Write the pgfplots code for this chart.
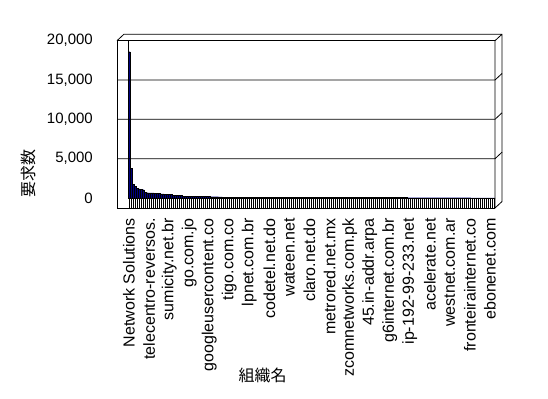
\documentclass[border=0pt]{standalone}
\usepackage{pgfplots}
\usepackage{pgfplotstable}
\pgfplotsset{compat=1.18}
\usepackage{fontspec}
\setmainfont{Liberation Sans}
\newfontfamily\cjk{Noto Sans CJK JP}
\definecolor{barnavy}{RGB}{0,0,128}
\pgfplotstableread{
v
18600
3800
1700
1450
1200
1150
1120
1050
700
680
660
650
640
630
620
600
520
510
500
490
480
470
360
350
340
330
320
200
198
196
194
192
190
188
186
184
182
180
178
176
174
172
170
168
165
130
128
126
124
122
120
118
116
114
112
110
108
106
104
102
100
98
97
96
95
94
93
92
91
90
89
88
87
86
85
84
83
82
81
80
79
78
77
76
75
74
73
72
71
70
69
68
68
67
67
66
66
65
65
64
64
63
63
62
62
61
61
60
60
59
59
58
58
57
57
56
56
55
55
54
54
53
53
52
52
51
51
50
50
49
49
48
48
47
47
46
46
45
45
44
44
43
43
42
42
41
41
40
40
40
39
39
39
38
38
38
37
37
37
36
36
36
35
35
35
34
34
34
33
33
33
32
32
32
31
31
31
30
30
30
30
29
29
}\datatable
\begin{document}
\begin{tikzpicture}[x=1bp,y=1bp]
\useasboundingbox (0,0) rectangle (548,398);
\begin{axis}[
  at={(128bp,200bp)}, anchor=south west,
  scale only axis, width=367bp, height=157.3bp,
  xmin=-0.5, xmax=182.5, ymin=0, ymax=20000,
  axis line style={draw=none},
  ybar, bar width=1,
  xtick={0,10,...,180},
  xticklabels={{Network Solutions},{telecentro-reversos.},{sumicity.net.br},{go.com.jo},{googleusercontent.co},{tigo.com.co},{lpnet.com.br},{codetel.net.do},{wateen.net},{claro.net.do},{metrored.net.mx},{zcomnetworks.com.pk},{45.in-addr.arpa},{g6internet.com.br},{ip-192-99-233.net},{acelerate.net},{westnet.com.ar},{fronteirainternet.co},{ebonenet.com}},
  minor xtick={0,1,...,182},
  xtick pos=bottom,
  tick align=outside,
  major tick length=10bp, minor tick length=10bp,
  xtick style={black, line width=0.5bp},
  ytick={0,5000,10000,15000,20000},
  ytick style={draw=none},
  scaled y ticks=false,
  /pgf/number format/.cd, 1000 sep={,}, assume math mode=true, /pgfplots/.cd,
  yticklabel style={font=\fontsize{15bp}{15bp}\selectfont, anchor=east, inner sep=0pt, xshift=-25bp},
  xticklabel style={font=\fontsize{16bp}{16bp}\selectfont, rotate=90, anchor=east, inner sep=0pt},
  xticklabel shift=10bp,
]
\addplot[fill=barnavy, draw=black, line width=0.3bp] table[x expr=\coordindex, y=v] {\datatable};
\end{axis}
% 3D frame (image y-down converted: Y = 398 - y)
\begin{scope}[line width=0.8bp, black]
\draw (117,357.3) -- (117,190) -- (495,190);
\draw (117,357.3) -- (495,357.3);
\draw (117,357.3) -- (124,363.8) -- (502,363.8) -- (502,196.5) -- (495,190) -- (495,357.3) -- (502,363.8);
\draw (128,357.3) -- (128,200);
\foreach \g in {318.0,278.7,239.3} {
  \draw (117,\g) -- (495,\g) -- (502,\g+6.5);
}
\end{scope}
\node[rotate=90] at (28.5,224.5) {\fontsize{16bp}{16bp}\cjk 要求数};
\node at (262.5,22.5) {\fontsize{16bp}{16bp}\cjk 組織名};
\end{tikzpicture}
\end{document}
